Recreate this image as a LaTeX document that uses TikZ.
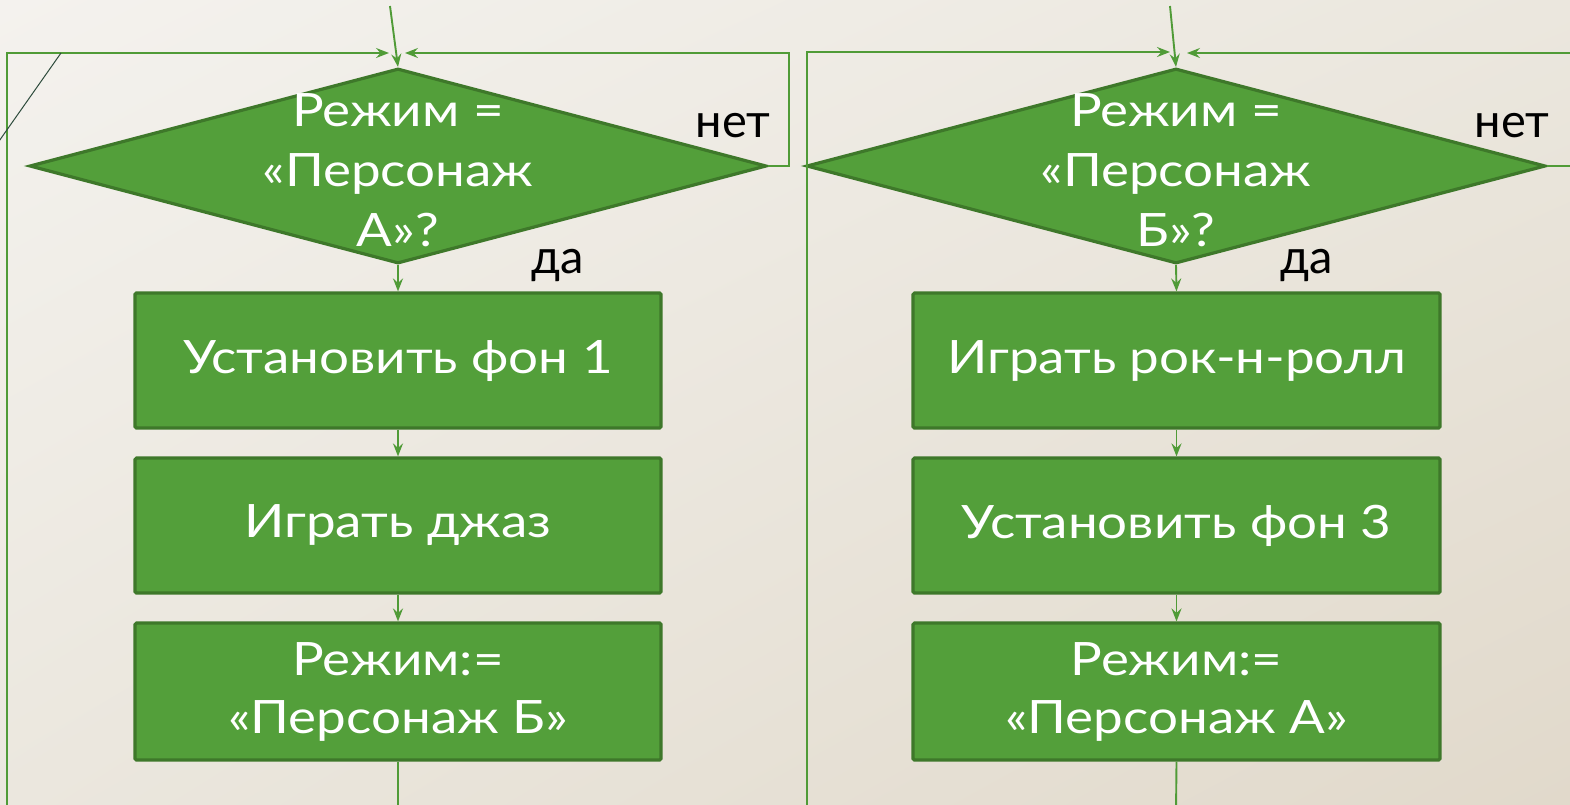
\documentclass[tikz,border=0pt]{standalone}
\usepackage{fontspec}
\setmainfont{Lato}[FakeStretch=1.15]
\newfontfamily\lblfont{Lato}
\usetikzlibrary{shapes.geometric,arrows.meta,shadings}
\definecolor{bgA}{RGB}{244,242,238}
\definecolor{bgM}{RGB}{235,231,222}
\definecolor{bgB}{RGB}{225,217,203}
\definecolor{gfill}{RGB}{83,159,58}
\definecolor{gedge}{RGB}{62,120,42}
\definecolor{gline}{RGB}{80,155,55}
\definecolor{slate}{RGB}{45,75,60}
\begin{document}
\begin{tikzpicture}[x=1pt,y=-1pt,
  blk/.style={draw=gedge, fill=gfill, line width=3.2pt, rounded corners=1.5pt,
    minimum width=526pt, minimum height=135pt, inner sep=0pt, text=white,
    font=\fontsize{46}{58}\selectfont, align=center},
  dia/.style={diamond, draw=gedge, fill=gfill, line width=3.2pt,
    minimum width=737pt, minimum height=195pt, inner sep=0pt},
  dtext/.style={text=white, font=\fontsize{46}{60}\selectfont, align=center, inner sep=0pt},
  lbl/.style={text=black, font=\lblfont\fontsize{47}{56}\selectfont, inner sep=0pt},
  conn/.style={draw=gline, line width=1.9pt},
  arr/.style={conn, -{Stealth[length=13pt,width=10pt,inset=4.5pt]}}
]
\useasboundingbox (0,0) rectangle (1570,804);
\shade[upper left=bgA, upper right=bgM, lower left=bgM, lower right=bgB] (0,0) rectangle (1570,804);
\clip (0,0) rectangle (1570,804);

% ---------- left chart ----------
\node[dia] (d1) at (398,166) {};
\node[dtext] (t1) at (398,170) {Режим =\\«Персонаж\\А»?};
\node[blk] (b1) at (398,360.5) {Установить фон 1};
\node[blk] (b2) at (398,525.5) {Играть джаз};
\node[blk, minimum height=137pt] (b3) at (398,691.5) {Режим:=\\«Персонаж Б»};
\node[lbl] (no1) at (733,126) {нет};
\node[lbl] (yes1) at (558,265) {да};

\coordinate (in1) at (390,6);
\coordinate (out1) at (398,812);
\coordinate (la) at (7,812);
\coordinate (lend) at (389,53);
\coordinate (nx1) at (789,53);
\coordinate (nend1) at (405,53);

\draw[arr] (in1) -- (d1.north);
\draw[arr] (d1.south) -- (b1.north);
\draw[arr] (b1.south) -- (b2.north);
\draw[arr] (b2.south) -- (b3.north);
\draw[conn] (b3.south) -- (out1);
\draw[arr] (la) |- (lend);
\draw[arr] (d1.east) -| (nx1) -- (nend1);
\draw[slate, line width=1pt] (61,53) -- (-3,144);

% ---------- right chart ----------
\node[dia, minimum width=739pt] (d2) at (1176,166) {};
\node[dtext] (t2) at (1176,170) {Режим =\\«Персонаж\\Б»?};
\node[blk, minimum width=527pt] (c1) at (1176.5,360.5) {Играть рок-н-ролл};
\node[blk, minimum width=527pt] (c2) at (1176.5,525.5) {Установить фон 3};
\node[blk, minimum width=527pt, minimum height=137pt] (c3) at (1176.5,691.5) {Режим:=\\«Персонаж А»};
\node[lbl] (no2) at (1512,126) {нет};
\node[lbl] (yes2) at (1307,265) {да};

\coordinate (in2) at (1170,6);
\coordinate (out2) at (1176,812);
\coordinate (ra) at (807,812);
\coordinate (rend) at (1170,52);
\coordinate (nx2) at (1590,53);
\coordinate (nend2) at (1187,53);

\draw[arr] (in2) -- (d2.north);
\draw[arr] (d2.south) -- (c1.north);
\draw[arr] (c1.south) -- (c2.north);
\draw[arr] (c2.south) -- (c3.north);
\draw[conn] (c3.south) -- (out2);
\draw[arr] (ra) |- (rend);
\draw[arr] (d2.east) -| (nx2) -- (nend2);
\end{tikzpicture}
\end{document}
